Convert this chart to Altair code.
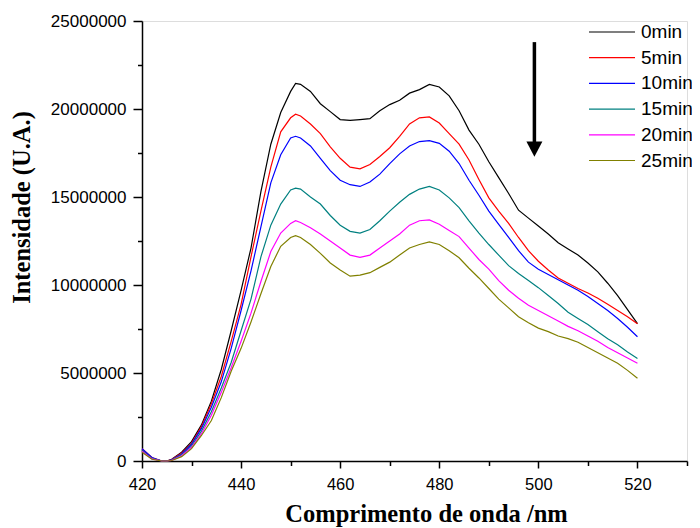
import altair as alt
import pandas as pd

# ---------------- data (intensities in millions of counts) ----------------
wavelength = [420, 422, 424, 425, 426, 428, 430, 432, 434, 436, 438, 440, 442, 444, 446,
              448, 450, 451, 452, 454, 456, 458, 460, 462, 464, 466, 468, 470, 472, 474,
              476, 478, 480, 482, 484, 486, 488, 490, 492, 494, 496, 498, 500, 502, 504,
              506, 508, 510, 512, 514, 516, 518, 520]

i_0min = [0.6, 0.15, 0.0, 0.0, 0.1, 0.5, 1.1, 2.05, 3.4, 5.2, 7.4, 9.7, 12.1, 15.3, 18.0,
          19.8, 21.0, 21.45, 21.4, 21.0, 20.3, 19.85, 19.4, 19.35, 19.4, 19.45, 19.9, 20.25,
          20.5, 20.9, 21.1, 21.4, 21.25, 20.75, 19.9, 18.8, 18.0, 17.0, 16.1, 15.2, 14.25,
          13.8, 13.35, 12.9, 12.4, 12.05, 11.7, 11.25, 10.75, 10.1, 9.4, 8.6, 7.8]
i_5min = [0.7, 0.2, 0.0, 0.0, 0.08, 0.45, 1.0, 1.95, 3.25, 4.8, 6.8, 8.9, 11.6, 14.2, 16.7,
          18.7, 19.5, 19.7, 19.6, 19.15, 18.6, 17.85, 17.2, 16.7, 16.6, 16.85, 17.3, 17.8,
          18.45, 19.15, 19.5, 19.55, 19.2, 18.6, 18.0, 17.1, 16.0, 14.95, 14.2, 13.5, 12.7,
          11.95, 11.35, 10.85, 10.4, 10.1, 9.8, 9.55, 9.25, 8.9, 8.55, 8.2, 7.8]
i_10min = [0.7, 0.2, 0.0, 0.0, 0.07, 0.4, 0.95, 1.85, 3.05, 4.5, 6.4, 8.55, 10.8, 13.3, 15.8,
           17.4, 18.35, 18.45, 18.35, 17.9, 17.2, 16.5, 15.95, 15.7, 15.6, 15.85, 16.3, 16.9,
           17.45, 17.9, 18.15, 18.2, 18.05, 17.6, 16.9, 15.95, 15.1, 14.2, 13.45, 12.7, 11.95,
           11.3, 10.9, 10.6, 10.3, 10.0, 9.7, 9.35, 8.95, 8.55, 8.1, 7.6, 7.06]
i_15min = [0.6, 0.15, 0.0, 0.0, 0.05, 0.35, 0.85, 1.7, 2.8, 4.15, 5.6, 7.4, 9.2, 11.6, 13.4,
           14.6, 15.4, 15.5, 15.45, 15.0, 14.6, 13.95, 13.4, 13.05, 12.95, 13.15, 13.65, 14.2,
           14.7, 15.15, 15.45, 15.6, 15.4, 14.95, 14.4, 13.65, 12.95, 12.3, 11.7, 11.1, 10.65,
           10.25, 9.85, 9.4, 8.95, 8.45, 8.1, 7.75, 7.35, 6.95, 6.6, 6.2, 5.83]
i_20min = [0.55, 0.12, 0.0, 0.0, 0.04, 0.3, 0.78, 1.55, 2.6, 3.9, 5.3, 6.8, 8.4, 10.2, 11.9,
           12.95, 13.5, 13.65, 13.55, 13.25, 12.9, 12.5, 12.1, 11.7, 11.57, 11.7, 12.1, 12.5,
           12.9, 13.4, 13.65, 13.7, 13.45, 13.1, 12.75, 12.1, 11.45, 10.9, 10.25, 9.7, 9.25,
           8.85, 8.55, 8.25, 7.95, 7.65, 7.4, 7.1, 6.8, 6.45, 6.15, 5.85, 5.55]
i_25min = [0.5, 0.1, 0.0, 0.0, 0.03, 0.25, 0.7, 1.45, 2.3, 3.6, 5.1, 6.4, 7.9, 9.5, 11.05,
           12.2, 12.7, 12.8, 12.7, 12.3, 11.8, 11.25, 10.85, 10.5, 10.56, 10.7, 11.0, 11.3,
           11.7, 12.1, 12.3, 12.45, 12.3, 11.95, 11.55, 10.95, 10.4, 9.8, 9.2, 8.7, 8.2,
           7.85, 7.55, 7.35, 7.1, 6.95, 6.75, 6.45, 6.15, 5.85, 5.55, 5.15, 4.7]

series_labels = ["0min", "5min", "10min", "15min", "20min", "25min"]
series_colors = ["#000000", "#FF0000", "#0000FF", "#008080", "#FF00FF", "#808000"]
series_values = [i_0min, i_5min, i_10min, i_15min, i_20min, i_25min]

x_major = [420, 440, 460, 480, 500, 520]
x_minor = [430, 450, 470, 490, 510, 530]
y_major = [0, 5000000, 10000000, 15000000, 20000000, 25000000]
y_minor = [2500000, 7500000, 12500000, 17500000, 22500000]

# annotation arrow (wavelength, intensity in millions)
arrow_x = [499.2]
arrow_top = [23.8]
arrow_base = [18.1]
arrow_head = [17.72]

# ---------------- tables ----------------
rows = []
for lab, vals in zip(series_labels, series_values):
    for w, v in zip(wavelength, vals):
        rows.append({"wl": w, "val": v * 1e6, "series": lab})
df = pd.DataFrame(rows)
arrow_df = pd.DataFrame({"ax": arrow_x, "at": [v * 1e6 for v in arrow_top],
                         "ab": [v * 1e6 for v in arrow_base],
                         "ah": [v * 1e6 for v in arrow_head]})

LABEL_FONT = "Liberation Sans"
TITLE_FONT = "Liberation Serif"

xscale = alt.Scale(domain=[420, 530], nice=False, zero=False)
yscale = alt.Scale(domain=[0, 25000000], nice=False, zero=True)

lines = alt.Chart(df).mark_line(strokeWidth=1.2).encode(
    x=alt.X("wl:Q", scale=xscale,
            axis=alt.Axis(values=x_major, title="Comprimento de onda /nm", orient="bottom",
                          labelFont=LABEL_FONT, labelFontSize=16.5, labelColor="black",
                          labelPadding=8, tickSize=7, tickWidth=1.5, tickColor="black",
                          domainColor="black", domainWidth=1.5, grid=False,
                          titleFont=TITLE_FONT, titleFontSize=24.5, titleFontWeight="bold",
                          titleColor="black", titleX=284, titleY=60, titleAlign="center",
                          titleBaseline="alphabetic", labelFlush=False)),
    y=alt.Y("val:Q", scale=yscale,
            axis=alt.Axis(values=y_major, format="d", title="Intensidade (U.A.)", orient="left",
                          labelFont=LABEL_FONT, labelFontSize=17, labelColor="black",
                          labelPadding=7, tickSize=9, tickWidth=1.5, tickColor="black",
                          domainColor="black", domainWidth=1.5, grid=False,
                          titleFont=TITLE_FONT, titleFontSize=24.5, titleFontWeight="bold",
                          titleColor="black", titleAngle=270, titleX=-119.5, titleY=186,
                          titleAlign="center", titleBaseline="middle", labelFlush=False)),
    color=alt.Color("series:N", sort=series_labels,
                    scale=alt.Scale(domain=series_labels, range=series_colors),
                    legend=alt.Legend(title=None, orient="none", legendX=446, legendY=0,
                                      symbolType="stroke", symbolSize=2116,
                                      symbolStrokeWidth=1.2, labelFont=LABEL_FONT,
                                      labelFontSize=19, labelColor="black", labelOffset=5,
                                      clipHeight=22, rowPadding=3.7, padding=0)),
    detail="series:N",
)

shaft = alt.Chart(arrow_df).mark_rule(color="black", strokeWidth=3.5).encode(
    x=alt.X("ax:Q", scale=xscale,
            axis=alt.Axis(values=x_minor, orient="bottom", labels=False, domain=False,
                          tickSize=4.5, tickWidth=1.5, tickColor="black", title=None,
                          grid=False)),
    y=alt.Y("at:Q", scale=yscale,
            axis=alt.Axis(values=y_minor, orient="left", labels=False, domain=False,
                          tickSize=4.5, tickWidth=1.5, tickColor="black", title=None,
                          grid=False)),
    y2="ab:Q",
)

head = alt.Chart(arrow_df).mark_point(
    shape="M-1,-0.95L1,-0.95L0,0.95Z", size=256, filled=True, color="black", opacity=1
).encode(
    x=alt.X("ax:Q", scale=xscale, axis=None),
    y=alt.Y("ah:Q", scale=yscale, axis=None),
)

chart = alt.layer(lines, shaft, head).resolve_axis(x="independent", y="independent").properties(
    width=545, height=440,
    autosize=alt.AutoSizeParams(type="none"),
    padding={"left": 134, "top": 13, "right": 5, "bottom": 66},
).configure_view(stroke=None).configure(background="white")

chart.save("out.html", embed_options={"renderer": "svg", "actions": False})
